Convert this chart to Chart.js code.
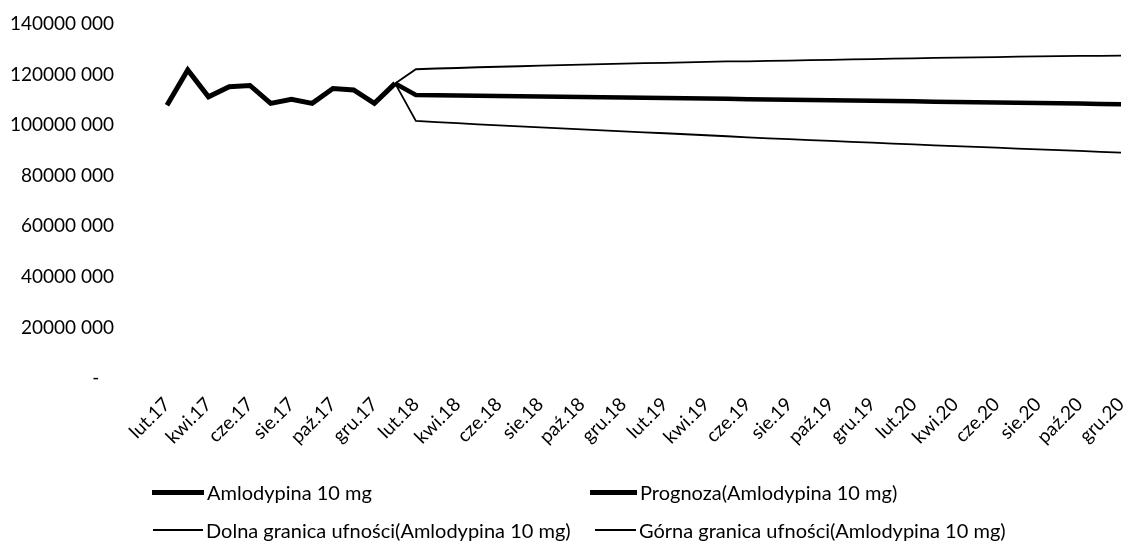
<!DOCTYPE html>
<html>
<head>
<meta charset="utf-8">
<script src="https://cdn.jsdelivr.net/npm/chart.js@4/dist/chart.umd.min.js"></script>
<style>
  html, body { margin: 0; padding: 0; background: #fff; }
  #wrap { position: relative; width: 1140px; height: 545px; }
  #legend { position: absolute; left: 0; top: 0; width: 1140px; height: 545px; pointer-events: none;
            font-family: Lato, "Open Sans", sans-serif; font-size: 20px; color: #000; }
  .li { position: absolute; display: flex; align-items: center; white-space: nowrap; }
  .sw { display: inline-block; background: #000; margin-right: 3px; }
</style>
</head>
<body>
<div id="wrap">
  <canvas id="c" width="1140" height="545"></canvas>
  <div id="legend"></div>
</div>
<script>
// ---- data ----
const categories = [
  'lut.17','mar.17','kwi.17','maj.17','cze.17','lip.17','sie.17','wrz.17','paź.17','lis.17','gru.17',
  'sty.18','lut.18','mar.18','kwi.18','maj.18','cze.18','lip.18','sie.18','wrz.18','paź.18','lis.18','gru.18',
  'sty.19','lut.19','mar.19','kwi.19','maj.19','cze.19','lip.19','sie.19','wrz.19','paź.19','lis.19','gru.19',
  'sty.20','lut.20','mar.20','kwi.20','maj.20','cze.20','lip.20','sie.20','wrz.20','paź.20','lis.20','gru.20'
];
// values in millions
const actualM = [107.9, 121.8, 111.2, 115.2, 115.7, 108.6, 110.2, 108.6, 114.5, 113.9, 108.6, 116.5];
const forecastStart = 11; // forecast begins at sty.18 (last actual point)
const forecastM = [116.5, 111.9, 111.8, 111.7, 111.6, 111.5, 111.4, 111.3, 111.2, 111.1, 111.0, 110.9,
  110.8, 110.7, 110.6, 110.5, 110.4, 110.2, 110.1, 110.0, 109.9, 109.8, 109.7, 109.6,
  109.5, 109.4, 109.3, 109.2, 109.1, 109.0, 108.9, 108.8, 108.7, 108.6, 108.4, 108.3];
const lowerM = [116.5, 101.7, 101.2, 100.8, 100.3, 99.9, 99.5, 99.1, 98.7, 98.3, 97.9, 97.5,
  97.1, 96.8, 96.4, 96.0, 95.6, 95.2, 94.8, 94.5, 94.1, 93.8, 93.4, 93.1,
  92.7, 92.4, 92.0, 91.7, 91.4, 91.1, 90.7, 90.4, 90.1, 89.8, 89.4, 89.1];
const upperM = [116.5, 122.1, 122.4, 122.6, 122.9, 123.1, 123.3, 123.5, 123.7, 123.9, 124.1, 124.3,
  124.5, 124.6, 124.8, 125.0, 125.2, 125.2, 125.4, 125.5, 125.7, 125.8, 126.0, 126.1,
  126.3, 126.4, 126.6, 126.7, 126.8, 126.9, 127.1, 127.2, 127.3, 127.4, 127.4, 127.5];
const seriesNames = [
  'Amlodypina 10 mg',
  'Prognoza(Amlodypina 10 mg)',
  'Dolna granica ufności(Amlodypina 10 mg)',
  'Górna granica ufności(Amlodypina 10 mg)'
];
const yMax = 140000000, yStep = 20000000;

// ---- build ----
const N = categories.length;
function full(arr, start) {
  const out = new Array(N).fill(null);
  arr.forEach((v, i) => { out[start + i] = v * 1e6; });
  return out;
}
const FONT = 'Lato, "Open Sans", sans-serif';

const datasets = [
  { label: seriesNames[0], data: full(actualM, 0), borderWidth: 5 },
  { label: seriesNames[1], data: full(forecastM, forecastStart), borderWidth: 4.5 },
  { label: seriesNames[2], data: full(lowerM, forecastStart), borderWidth: 1.8 },
  { label: seriesNames[3], data: full(upperM, forecastStart), borderWidth: 1.8 }
].map(d => Object.assign(d, {
  borderColor: '#000', backgroundColor: '#000', pointRadius: 0, tension: 0,
  fill: false, spanGaps: false, borderJoinStyle: 'miter', borderCapStyle: 'butt'
}));

new Chart(document.getElementById('c'), {
  type: 'line',
  data: { labels: categories, datasets },
  options: {
    responsive: false,
    animation: false,
    layout: { padding: { top: 24, right: 19, bottom: 0, left: 0 } },
    plugins: { legend: { display: false }, tooltip: { enabled: false } },
    scales: {
      x: {
        offset: false,
        grid: { display: false, drawTicks: false },
        border: { display: false },
        afterFit: s => { s.height = 167; s.paddingLeft = 0; s.paddingRight = 0; },
        ticks: {
          autoSkip: false, maxRotation: 45, minRotation: 45, padding: 15,
          color: '#000', font: { family: FONT, size: 19 },
          callback: function (v, i) { return i % 2 === 0 ? this.getLabelForValue(v) : ''; }
        }
      },
      y: {
        min: 0, max: yMax,
        grid: { display: false, drawTicks: false },
        border: { display: false },
        afterFit: s => { s.width = 167; s.paddingTop = 0; s.paddingBottom = 0; },
        ticks: {
          stepSize: yStep, padding: 53, color: '#000', font: { family: FONT, size: 19 },
          callback: v => {
            if (v === 0) return '-   ';
            const s = String(v);
            return s.slice(0, -3) + ' ' + s.slice(-3);
          }
        }
      }
    }
  }
});

// ---- legend (2 columns x 2 rows) ----
const legendPos = [
  { x: 152, y: 492, w: 52 },
  { x: 590, y: 492, w: 47 },
  { x: 153, y: 530, w: 50 },
  { x: 595, y: 530, w: 41 }
];
const lg = document.getElementById('legend');
datasets.forEach((d, i) => {
  const p = legendPos[i];
  const item = document.createElement('div');
  item.className = 'li';
  item.style.left = p.x + 'px';
  item.style.top = (p.y - 13) + 'px';
  item.style.height = '26px';
  const sw = document.createElement('span');
  sw.className = 'sw';
  sw.style.width = p.w + 'px';
  sw.style.height = (d.borderWidth > 3 ? 5 : 2) + 'px';
  const tx = document.createElement('span');
  tx.textContent = d.label;
  item.appendChild(sw);
  item.appendChild(tx);
  lg.appendChild(item);
});
</script>
</body>
</html>
